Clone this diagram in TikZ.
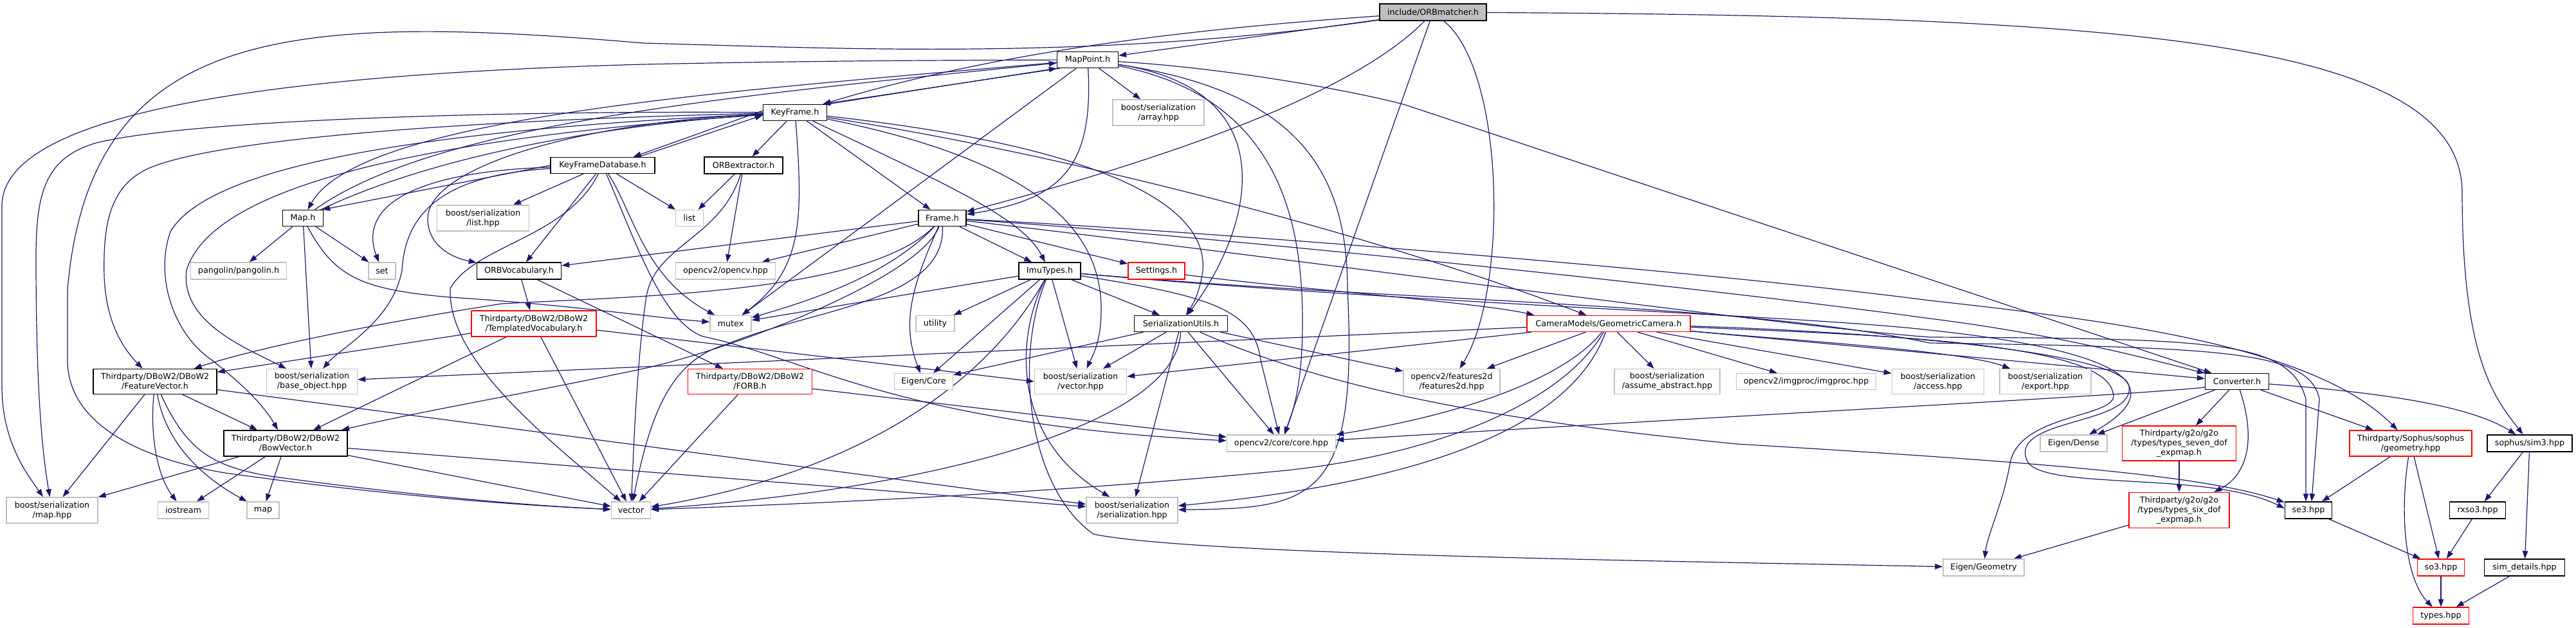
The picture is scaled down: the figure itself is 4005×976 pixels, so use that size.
\documentclass[tikz,border=0pt]{standalone}
\usepackage{fontspec}
\setmainfont{DejaVu Sans}
\usetikzlibrary{arrows.meta}
\definecolor{edgeblue}{HTML}{191970}
\definecolor{extgray}{HTML}{BFBFBF}
\definecolor{rootfill}{HTML}{BFBFBF}
\definecolor{truncred}{HTML}{FF0000}
\pgfdeclarelayer{bg}
\pgfsetlayers{bg,main}
\tikzset{
  nd/.style={draw=black, line width=1.4pt, fill=white, inner sep=0pt, align=center, font=\fontsize{12.7pt}{15pt}\selectfont},
  ext/.style={nd, draw=extgray},
  trunc/.style={nd, draw=truncred},
  rootnode/.style={nd, fill=rootfill},
  sz/.style 2 args={minimum width=#1pt, minimum height=#2pt},
  e/.style={draw=edgeblue, line width=1.2pt, -{Triangle[length=12pt,width=8.5pt]}}
}
\begin{document}
\begin{tikzpicture}[x=1pt,y=-1pt]
\useasboundingbox (0,0) rectangle (4005,976);
% ---------- nodes ----------
\node[rootnode, sz={166}{26}] (orbm) at (2228,19) {include/ORBmatcher.h};
\node[nd, sz={95}{25}] (mp) at (1691,93) {MapPoint.h};
\node[ext, sz={142}{40}] (arr) at (1801,175) {boost/serialization\\/array.hpp};
\node[nd, sz={99}{25}] (kf) at (1236,175) {KeyFrame.h};
\node[nd, sz={162}{25}] (kfdb) at (937,257) {KeyFrameDatabase.h};
\node[nd, sz={122}{26}] (orbx) at (1156,257) {ORBextractor.h};
\node[ext, sz={143}{40}] (lhpp) at (751,339) {boost/serialization\\/list.hpp};
\node[nd, sz={63}{25}] (maph) at (471,339) {Map.h};
\node[ext, sz={43}{25}] (listn) at (1072,339) {list};
\node[nd, sz={74}{25}] (frame) at (1465,339) {Frame.h};
\node[ext, sz={149}{26}] (pang) at (371,421) {pangolin/pangolin.h};
\node[ext, sz={42}{26}] (setn) at (594,421) {set};
\node[nd, sz={131}{26}] (orbv) at (807,421) {ORBVocabulary.h};
\node[ext, sz={155}{26}] (ocv) at (1128,421) {opencv2/opencv.hpp};
\node[nd, sz={96}{26}] (imu) at (1632,421) {ImuTypes.h};
\node[trunc, sz={88}{26}] (sett) at (1798,421) {Settings.h};
\node[ext, sz={64}{25}] (mutex) at (1136,503) {mutex};
\node[ext, sz={60}{25}] (util) at (1454,503) {utility};
\node[nd, sz={145}{25}] (seru) at (1836,503) {SerializationUtils.h};
\node[trunc, sz={254}{25}] (gcam) at (2501,503) {CameraModels/GeometricCamera.h};
\node[trunc, sz={194}{40}] (tvoc) at (830,503) {Thirdparty/DBoW2/DBoW2\\/TemplatedVocabulary.h};
\node[nd, sz={192}{39}] (fvec) at (241,593) {Thirdparty/DBoW2/DBoW2\\/FeatureVector.h};
\node[ext, sz={141}{39}] (bobj) at (485,593) {boost/serialization\\/base\_object.hpp};
\node[trunc, sz={193}{39}] (forb) at (1166,593) {Thirdparty/DBoW2/DBoW2\\/FORB.h};
\node[ext, sz={91}{25}] (ecore) at (1436,593) {Eigen/Core};
\node[ext, sz={143}{39}] (vhpp) at (1680,593) {boost/serialization\\/vector.hpp};
\node[ext, sz={150}{39}] (f2d) at (2257,593) {opencv2/features2d\\/features2d.hpp};
\node[ext, sz={164}{39}] (assume) at (2592,593) {boost/serialization\\/assume\_abstract.hpp};
\node[ext, sz={217}{25}] (imgp) at (2808,593) {opencv2/imgproc/imgproc.hpp};
\node[ext, sz={143}{39}] (acc) at (3013,593) {boost/serialization\\/access.hpp};
\node[ext, sz={142}{39}] (expo) at (3180,593) {boost/serialization\\/export.hpp};
\node[nd, sz={99}{25}] (conv) at (3478,593) {Converter.h};
\node[nd, sz={192}{40}] (bow) at (444,689) {Thirdparty/DBoW2/DBoW2\\/BowVector.h};
\node[ext, sz={169}{26}] (core) at (1992,689) {opencv2/core/core.hpp};
\node[ext, sz={104}{26}] (edense) at (3224,689) {Eigen/Dense};
\node[trunc, sz={177}{54}] (seven) at (3388,689) {Thirdparty/g2o/g2o\\/types/types\_seven\_dof\\\_expmap.h};
\node[trunc, sz={190}{40}] (sgeo) at (3748,689) {Thirdparty/Sophus/sophus\\/geometry.hpp};
\node[nd, sz={132}{26}] (sim3) at (3933,689) {sophus/sim3.hpp};
\node[ext, sz={142}{40}] (maphpp) at (81,793) {boost/serialization\\/map.hpp};
\node[ext, sz={79}{26}] (iost) at (285,793) {iostream};
\node[ext, sz={50}{26}] (mapn) at (409,793) {map};
\node[ext, sz={61}{26}] (vec) at (981,793) {vector};
\node[ext, sz={142}{40}] (ser) at (1760,793) {boost/serialization\\/serialization.hpp};
\node[trunc, sz={156}{55}] (six) at (3388,793) {Thirdparty/g2o/g2o\\/types/types\_six\_dof\\\_expmap.h};
\node[nd, sz={73}{26}] (se3) at (3589,793) {se3.hpp};
\node[nd, sz={87}{26}] (rxso3) at (3852,793) {rxso3.hpp};
\node[ext, sz={126}{26}] (egeo) at (3084,882) {Eigen/Geometry};
\node[trunc, sz={73}{26}] (so3) at (3795,882) {so3.hpp};
\node[nd, sz={125}{26}] (simd) at (3925,882) {sim\_details.hpp};
\node[trunc, sz={87}{26}] (types) at (3795,957) {types.hpp};
% ---------- edges ----------
\begin{pgfonlayer}{bg}
% ORBmatcher
\draw[e] (orbm) -- (mp);
\draw[e] (orbm) .. controls (1850,45) and (1550,80) .. (kf);
\draw[e] (orbm) .. controls (2100,150) and (1800,250) .. (frame);
\draw[e] (orbm) -- (core);
\draw[e] (orbm) .. controls (2340,110) and (2345,450) .. (f2d);
\draw[e] (orbm) .. controls (3300,25) and (3828,60) .. (3828,300) .. controls (3828,560) and (3880,620) .. (sim3);
\draw[e] (orbm) .. controls (1700,95) and (1300,75) .. (1000,67) .. controls (450,20) and (140,40) .. (105,450) -- (105,560) .. controls (105,650) and (200,710) .. (350,735) .. controls (600,770) and (800,785) .. (vec);
% MapPoint
\draw[e] ([xshift=5pt]mp.south west) -- ([xshift=-7pt]kf.north east);
\draw[e] (mp) .. controls (1150,140) and (560,180) .. (maph);
\draw[e] (mp) .. controls (1300,94) and (1150,97) .. (1000,100) .. controls (450,115) and (3,170) .. (3,320) -- (3,600) .. controls (3,690) and (45,740) .. (maphpp);
\draw[e] (mp) -- (arr);
\draw[e] (mp) .. controls (1700,260) and (1650,310) .. (frame);
\draw[e] (mp) -- (mutex);
\draw[e] (mp) .. controls (1900,105) and (2100,140) .. (2185,163) -- (conv);
\draw[e] (mp) .. controls (2000,140) and (1950,350) .. (seru);
\draw[e] (mp) .. controls (2000,140) and (2095,250) .. (2095,450) .. controls (2112,780) and (2040,790) .. (ser);
\draw[e] (mp) .. controls (1980,150) and (2025,330) .. (2025,500) .. controls (2025,600) and (2010,640) .. (core);
% KeyFrame
\draw[e] (kf.north east) -- (mp.south west);
\draw[e] (kf) -- (orbx);
\draw[e] (kf) -- (frame);
\draw[e] (kf) .. controls (1480,290) and (1590,340) .. (imu);
\draw[e] (kf) .. controls (1250,350) and (1245,420) .. (mutex);
\draw[e] (kf) .. controls (1600,230) and (2100,350) .. (gcam);
\draw[e] (kf) .. controls (1650,220) and (1880,300) .. (1870,420) .. controls (1865,460) and (1850,480) .. (seru);
\draw[e] (kf) .. controls (1560,240) and (1712,330) .. (1712,480) .. controls (1712,530) and (1700,550) .. (vhpp);
\draw[e] ([yshift=3pt]kf.west) -- ([xshift=-34pt]kfdb.north east);
\draw[e] (kf) .. controls (800,172) and (300,185) .. (150,222) .. controls (70,245) and (56,300) .. (56,400) .. controls (56,600) and (65,700) .. (maphpp);
\draw[e] (kf) .. controls (800,185) and (350,210) .. (230,262) .. controls (170,290) and (160,350) .. (162,430) .. controls (165,500) and (190,540) .. (fvec);
\draw[e] (kf) .. controls (700,200) and (330,250) .. (265,360) .. controls (240,430) and (270,520) .. (330,560) .. controls (380,600) and (410,630) .. (bow);
\draw[e] (kf) .. controls (650,215) and (330,290) .. (290,420) .. controls (280,500) and (380,540) .. (bobj);
\draw[e] (kf) .. controls (900,190) and (665,260) .. (665,340) .. controls (665,380) and (700,400) .. (orbv);
% KeyFrameDatabase
\draw[e] ([xshift=-26pt]kfdb.north east) -- ([yshift=-4pt]kf.west);
\draw[e] (kfdb.west) -- ([xshift=-2pt]maph.north east);
\draw[e] (kfdb) -- (lhpp);
\draw[e] (kfdb) .. controls (620,268) and (560,330) .. (setn);
\draw[e] (kfdb) -- (orbv);
\draw[e] (kfdb) .. controls (880,370) and (740,380) .. (700,448) .. controls (695,560) and (850,680) .. (vec);
\draw[e] (kfdb) -- (listn);
\draw[e] (kfdb) .. controls (985,330) and (1000,430) .. (mutex);
\draw[e] (kfdb) .. controls (990,380) and (1030,500) .. (1093,523) .. controls (1250,555) and (1400,660) .. (core);
\draw[e] (kfdb) .. controls (690,272) and (630,330) .. (625,420) .. controls (610,500) and (530,540) .. (bobj);
% ORBextractor
\draw[e] (orbx) -- (listn);
\draw[e] (orbx) -- (ocv);
\draw[e] (orbx) .. controls (1120,370) and (1020,380) .. (1005,460) .. controls (990,560) and (985,700) .. (vec);
% Map
\draw[e] (maph) -- (pang);
\draw[e] (maph) -- (setn);
\draw[e] (maph) -- (bobj);
\draw[e] (maph) .. controls (520,430) and (560,450) .. (700,462) .. controls (900,475) and (1000,492) .. (mutex);
\draw[e] (maph) .. controls (680,190) and (1150,148) .. (mp);
\draw[e] (maph) .. controls (700,230) and (1000,190) .. (kf);
% ORBVocabulary / DBoW2
\draw[e] (orbv) -- (tvoc);
\draw[e] (orbv) -- (forb);
\draw[e] (tvoc) -- (fvec);
\draw[e] (tvoc) -- (bow);
\draw[e] (tvoc) -- (vec);
\draw[e] ([yshift=-10pt]tvoc.east) -- (vhpp.west);
\draw[e] (fvec) -- (maphpp);
\draw[e] (fvec) .. controls (233,680) and (245,740) .. (iost);
\draw[e] (fvec) .. controls (260,700) and (330,750) .. (mapn);
\draw[e] (fvec) .. controls (290,700) and (330,725) .. (420,740) .. controls (600,765) and (800,785) .. (vec);
\draw[e] (fvec) -- (bow);
\draw[e] (fvec) -- (ser);
\draw[e] (bow) -- (maphpp);
\draw[e] (bow) -- (iost);
\draw[e] (bow) -- (mapn);
\draw[e] (bow) -- (vec);
\draw[e] (bow) -- (ser);
\draw[e] (forb) -- (vec);
\draw[e] (forb) -- (core);
% Frame
\draw[e] (frame) -- (imu);
\draw[e] (frame) -- (sett);
\draw[e] (frame) -- (ocv);
\draw[e] (frame) -- (orbv);
\draw[e] (frame) .. controls (1380,430) and (1250,470) .. (mutex);
\draw[e] (frame) .. controls (1350,455) and (1000,460) .. (780,472) .. controls (600,500) and (400,540) .. (fvec);
\draw[e] (frame) .. controls (1430,430) and (1150,540) .. (1000,573) .. controls (800,615) and (650,640) .. (bow);
\draw[e] (frame) .. controls (1470,470) and (1260,480) .. (1130,535) .. controls (1040,560) and (1010,650) .. (vec);
\draw[e] (frame) .. controls (1420,440) and (1400,500) .. (ecore);
\draw[e] (frame) .. controls (1800,360) and (2600,440) .. (3000,495) .. controls (3200,520) and (3350,560) .. (conv);
\draw[e] (frame) .. controls (1800,355) and (2600,415) .. (3000,467) .. controls (3300,500) and (3600,540) .. (sgeo);
\draw[e] (frame) .. controls (2000,400) and (2750,505) .. (3000,524) .. controls (3450,526) and (3560,530) .. (3585,620) -- ([xshift=-4pt]se3.north);
% ImuTypes
\draw[e] (imu) -- (util);
\draw[e] (imu) -- (seru);
\draw[e] (imu) -- (mutex);
\draw[e] (imu) -- (ecore);
\draw[e] (imu) -- (vhpp);
\draw[e] (imu) .. controls (1880,460) and (1950,480) .. (1960,560) -- (core);
\draw[e] (imu) .. controls (1520,620) and (1300,740) .. (vec);
\draw[e] (imu) .. controls (1575,560) and (1600,760) .. (1700,830) .. controls (1850,862) and (2600,872) .. (egeo);
\draw[e] (imu) .. controls (1580,520) and (1570,680) .. (ser);
\draw[e] (imu) .. controls (2200,472) and (2800,490) .. (3000,513) .. controls (3300,545) and (3380,600) .. (edense);
\draw[e] (imu) .. controls (2200,470) and (2700,470) .. (3000,533) .. controls (3460,540) and (3590,545) .. (3606,620) -- ([xshift=5pt]se3.north);
% Settings
\draw[e] (sett) .. controls (2000,448) and (2300,470) .. ([xshift=12pt]gcam.north west);
% SerializationUtils
\draw[e] (seru) -- (ecore);
\draw[e] (seru) -- (vhpp);
\draw[e] (seru) -- (ser);
\draw[e] (seru) -- (core);
\draw[e] (seru) -- (f2d);
\draw[e] (seru) .. controls (2100,620) and (2400,660) .. (2700,690) .. controls (3200,720) and (3430,740) .. (se3);
\draw[e] (seru) .. controls (1830,660) and (1450,760) .. (vec);
% GeometricCamera
\draw[e] (gcam) -- (f2d);
\draw[e] (gcam) .. controls (2440,580) and (2300,640) .. (core);
\draw[e] (gcam) .. controls (2420,640) and (2200,710) .. (2000,731) .. controls (1600,770) and (1200,785) .. (vec);
\draw[e] (gcam) .. controls (2430,700) and (2100,760) .. (ser);
\draw[e] (gcam) -- (assume);
\draw[e] (gcam) -- (imgp);
\draw[e] (gcam) -- (acc);
\draw[e] (gcam) .. controls (2800,530) and (3050,545) .. (expo);
\draw[e] (gcam) -- (bobj);
\draw[e] (gcam) -- (vhpp);
\draw[e] (gcam) -- (conv);
\draw[e] (gcam) .. controls (2900,520) and (3270,530) .. (3285,610) .. controls (3300,650) and (3140,640) .. (3125,720) .. controls (3115,780) and (3090,830) .. (egeo);
\draw[e] (gcam) .. controls (2900,515) and (3300,545) .. (3310,600) .. controls (3320,660) and (3130,650) .. (3150,712) .. controls (3160,765) and (3430,730) .. ([yshift=3pt]se3.west);
% Converter
\draw[e] ([yshift=-9pt]conv.west) .. controls (3300,615) and (2800,640) .. (core);
\draw[e] (conv) -- (edense);
\draw[e] (conv) -- (seven);
\draw[e] (conv) .. controls (3510,690) and (3490,740) .. (six);
\draw[e] (conv) -- (sgeo);
\draw[e] (conv) .. controls (3700,610) and (3840,630) .. (sim3);
% Sophus / g2o
\draw[e] (sgeo) -- (se3);
\draw[e] (sgeo) -- (so3);
\draw[e] (sgeo) .. controls (3730,800) and (3740,900) .. (types);
\draw[e] (seven) -- (six);
\draw[e] (six) -- (egeo);
\draw[e] (se3) -- (so3);
\draw[e] (rxso3) -- (so3);
\draw[e] (so3) -- (types);
\draw[e] (sim3) -- (rxso3);
\draw[e] (sim3) -- (simd);
\draw[e] (simd) -- (types);
\end{pgfonlayer}
\end{tikzpicture}
\end{document}
